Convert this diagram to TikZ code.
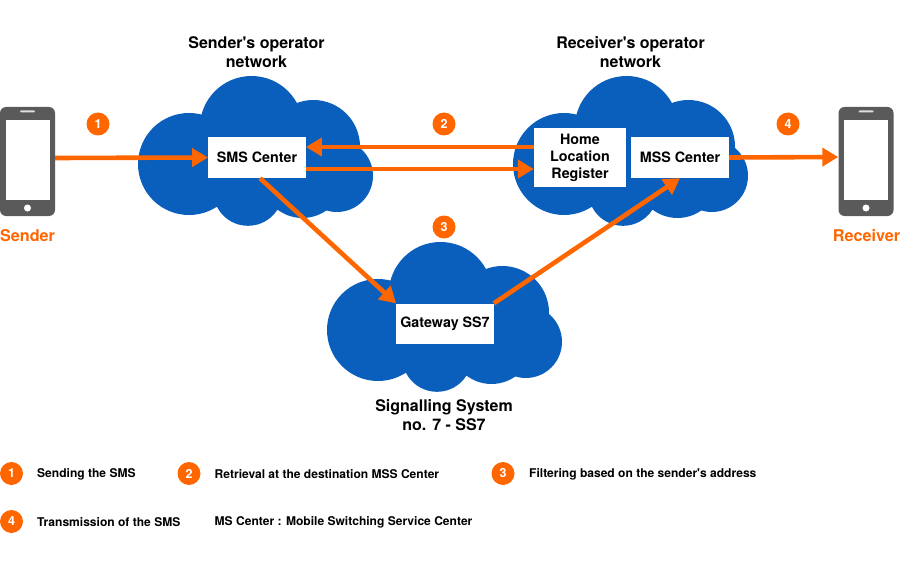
\documentclass[tikz,border=0pt]{standalone}
\usepackage{fontspec}
\setmainfont{TeX Gyre Heros}[Ligatures=TeXOff]
\usetikzlibrary{arrows.meta}
\definecolor{cloudblue}{HTML}{0A5FBC}
\definecolor{mainorange}{HTML}{FF6600}
\definecolor{phonegray}{HTML}{5A5A5A}
\tikzset{
  x=1pt,y=-1pt,
  box/.style={fill=white,draw=none,inner sep=0pt,align=center,font=\fontsize{14.3}{17}\selectfont\bfseries,text=black},
  title/.style={inner sep=0pt,align=center,font=\fontsize{16}{19}\selectfont\bfseries,text=black},
  who/.style={inner sep=0pt,font=\fontsize{16.2}{19}\selectfont\bfseries,text=mainorange},
  badge/.style={circle,fill=mainorange,minimum size=23pt,inner sep=0pt,text=white,font=\fontsize{12.5}{14}\selectfont\bfseries},
  legend/.style={anchor=west,inner sep=0pt,text=black,font=\fontsize{12.05}{14}\selectfont\bfseries},
  link/.style={draw=mainorange,line width=4.6pt,-{Triangle[length=16pt,width=18pt]},shorten >=0pt},
  phone/.style={minimum width=55pt,minimum height=109pt,inner sep=0pt,draw=none},
  cloudpic/.pic={
    \fill[cloudblue]
      (189,164) circle[radius=51pt]
      (251.5,127.7) circle[radius=51.7pt]
      (313.4,146.6) circle[radius=46.6pt]
      (336.8,175.8) circle[radius=36.2pt]
      (248,191) circle[radius=34.8pt]
      (302.5,176.5) circle[radius=41.5pt]
      (190,120) rectangle (340,195);
  },
  phonepic/.pic={
    \fill[phonegray,rounded corners=6pt] (-27.5,-54.5) rectangle (27.5,54.5);
    \fill[white] (-22,-41.5) rectangle (22,38.5);
    \fill[white!80!phonegray,rounded corners=1pt] (-7.5,-51) rectangle (7.5,-49);
    \fill[white] (0,46.5) circle[radius=3.5pt];
  }
}
\begin{document}
\begin{tikzpicture}
\useasboundingbox (0,0) rectangle (900,567);
% clouds
\pic at (0,0) {cloudpic};
\pic at (375,0) {cloudpic};
\pic at (189,166) {cloudpic};
% phones
\pic at (27.5,161.5) {phonepic};
\pic at (866,161.5) {phonepic};
\node[phone] (sender) at (27.5,161.5) {};
\node[phone] (receiver) at (866,161.5) {};
% boxes
\node[box,minimum width=97.5pt,minimum height=41pt] (sms) at (257,157.5) {SMS Center};
\node[box,minimum width=92pt,minimum height=59pt] (hlr) at (580,157.5) {Home\\Location\\Register};
\node[box,minimum width=98pt,minimum height=41pt] (mss) at (680,157.5) {MSS Center};
\node[box,minimum width=97.5pt,minimum height=40pt] (gw) at (445,323.5) {Gateway SS7};
% connectors
\draw[link] ([yshift=3.5pt]sender.east) -- (sms.west);
\draw[link] ([yshift=10.5pt]hlr.west) -- ([yshift=10.5pt]sms.east);
\draw[link] ([yshift=-11.5pt]sms.east) -- ([yshift=-11.5pt]hlr.west);
\draw[link] ([xshift=3pt]sms.south) -- (gw.north west);
\draw[link] (gw.north east) -- (mss.south);
\draw[link] (mss.east) -- ([yshift=4.5pt]receiver.west);
% titles
\node[title] (t1) at (256.5,52) {Sender's operator\\network};
\node[title] (t2) at (630.5,52) {Receiver's operator\\network};
\node[title] (t3) at (444,415) {Signalling System\\no. 7 - SS7};
\node[who] (l1) at (27.5,236) {Sender};
\node[who] (l2) at (866.5,236) {Receiver};
% badges
\node[badge] (b1) at (98,124) {1};
\node[badge] (b2) at (444,124) {2};
\node[badge] (b3) at (444,227) {3};
\node[badge] (b4) at (788,124) {4};
% legend
\node[badge] (k1) at (11.5,473.5) {1};
\node[legend] (k1t) at (37,474.3) {Sending the SMS};
\node[badge] (k2) at (189,473.5) {2};
\node[legend] (k2t) at (214.5,474.3) {Retrieval at the destination MSS Center};
\node[badge] (k3) at (503,473.5) {3};
\node[legend] (k3t) at (529,474.3) {Filtering based on the sender's address};
\node[badge] (k4) at (11.5,521.5) {4};
\node[legend] (k4t) at (37,522) {Transmission of the SMS};
\node[legend] (k5t) at (214.5,522) {MS Center : Mobile Switching Service Center};
\end{tikzpicture}
\end{document}
